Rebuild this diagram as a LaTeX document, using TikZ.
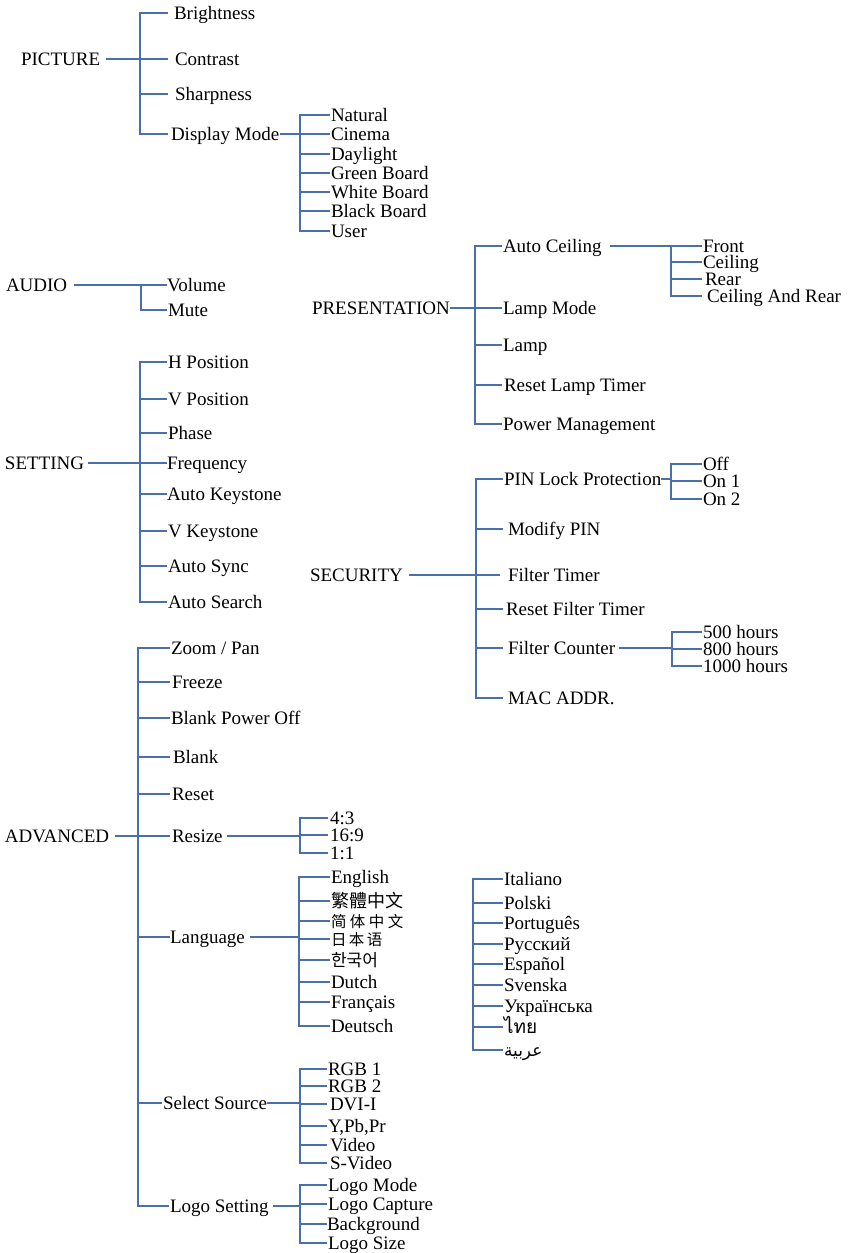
\documentclass[tikz,border=0pt]{standalone}
\usepackage{fontspec}
\setmainfont{Liberation Serif}
\newfontfamily\cjksc{Noto Sans CJK SC}
\newfontfamily\cjkkr{Noto Sans CJK KR}
\newfontfamily\thaifont[Script=Thai]{Loma}
\newfontfamily\arabicfont[Script=Arabic]{DejaVu Sans}
\TeXXeTstate=1
\definecolor{linkblue}{RGB}{74,112,172}
\tikzset{
  ln/.style={draw=linkblue, line width=1.6pt},
  lbl/.style={anchor=west, inner ysep=0pt, inner xsep=0.5pt, outer sep=0pt,
              text height=12.6pt, text depth=0pt, font=\fontsize{19}{19}\selectfont},
  pad/.style={inner xsep=#1pt},
}
\begin{document}
\begin{tikzpicture}[x=1pt,y=-1pt]
\useasboundingbox (0,0) rectangle (847,1253);

% ---------------- PICTURE ----------------
\node[lbl,pad=0] (picture) at (21,59) {PICTURE};
\coordinate (tP) at (140,0);
\node[lbl,pad=6] (brightness) at (168,13) {Brightness};
\node[lbl,pad=7] (contrast) at (168,59) {Contrast};
\node[lbl,pad=7] (sharpness) at (168,94) {Sharpness};
\node[lbl,pad=3] (display) at (168,134) {Display Mode};
\draw[ln] ([xshift=6pt]picture.east) -- (picture.east -| tP);
\draw[ln] (brightness.west) -| (tP |- display.west) -- (display.west);
\foreach \n in {contrast,sharpness} \draw[ln] (tP |- \n.west) -- (\n.west);

\coordinate (tD) at (300,0);
\node[lbl,pad=1] (natural) at (330,115) {Natural};
\node[lbl,pad=1] (cinema) at (330,134) {Cinema};
\node[lbl,pad=1] (daylight) at (330,154) {Daylight};
\node[lbl,pad=1] (greenb) at (330,173) {Green Board};
\node[lbl,pad=1] (whiteb) at (330,192) {White Board};
\node[lbl,pad=1] (blackb) at (330,211) {Black Board};
\node[lbl,pad=1] (user) at (330,231) {User};
\draw[ln] ([xshift=-2pt]display.east) -- (display.east -| tD);
\draw[ln] (natural.west) -| (tD |- user.west) -- (user.west);
\foreach \n in {cinema,daylight,greenb,whiteb,blackb} \draw[ln] (tD |- \n.west) -- (\n.west);

% ---------------- AUDIO ----------------
\node[lbl,pad=0] (audio) at (6,285) {AUDIO};
\coordinate (tA) at (141,0);
\node[lbl,pad=0] (volume) at (167,285) {Volume};
\node[lbl,pad=1] (mute) at (167,310) {Mute};
\draw[ln] ([xshift=7pt]audio.east) -- (audio.east -| tA);
\draw[ln] (volume.west) -| (tA |- mute.west) -- (mute.west);

% ---------------- PRESENTATION ----------------
\node[lbl,pad=0] (presentation) at (312,308) {PRESENTATION};
\coordinate (tPr) at (475,0);
\node[lbl,pad=1] (autoceiling) at (502,246) {Auto Ceiling};
\node[lbl,pad=1] (lampmode) at (502,308) {Lamp Mode};
\node[lbl,pad=1] (lamp) at (502,345) {Lamp};
\node[lbl,pad=2] (resetlamp) at (502,385) {Reset Lamp Timer};
\node[lbl,pad=1] (power) at (502,424) {Power Management};
\draw[ln] (presentation.east) -- (presentation.east -| tPr);
\draw[ln] (autoceiling.west) -| (tPr |- power.west) -- (power.west);
\foreach \n in {lampmode,lamp,resetlamp} \draw[ln] (tPr |- \n.west) -- (\n.west);

\coordinate (tAc) at (671,0);
\node[lbl,pad=1] (front) at (702,246) {Front};
\node[lbl,pad=1] (ceiling) at (702,262) {Ceiling};
\node[lbl,pad=3] (rear) at (702,279) {Rear};
\node[lbl,pad=5] (ceilrear) at (702,296) {Ceiling And Rear};
\draw[ln] ([xshift=7pt]autoceiling.east) -- (autoceiling.east -| tAc);
\draw[ln] (front.west) -| (tAc |- ceilrear.west) -- (ceilrear.west);
\foreach \n in {ceiling,rear} \draw[ln] (tAc |- \n.west) -- (\n.west);

% ---------------- SETTING ----------------
\node[lbl,pad=0] (setting) at (5,463) {SETTING};
\coordinate (tS) at (140,0);
\node[lbl,pad=1] (hpos) at (167,362) {H Position};
\node[lbl,pad=1] (vpos) at (167,399) {V Position};
\node[lbl,pad=1] (phase) at (167,433) {Phase};
\node[lbl,pad=0] (freq) at (167,463) {Frequency};
\node[lbl,pad=0] (autokey) at (167,494) {Auto Keystone};
\node[lbl,pad=1] (vkey) at (167,531) {V Keystone};
\node[lbl,pad=1] (autosync) at (167,566) {Auto Sync};
\node[lbl,pad=1] (autosearch) at (167,602) {Auto Search};
\draw[ln] ([xshift=4pt]setting.east) -- (setting.east -| tS);
\draw[ln] (hpos.west) -| (tS |- autosearch.west) -- (autosearch.west);
\foreach \n in {vpos,phase,freq,autokey,vkey,autosync} \draw[ln] (tS |- \n.west) -- (\n.west);

% ---------------- SECURITY ----------------
\node[lbl,pad=0] (security) at (310,575) {SECURITY};
\coordinate (tSe) at (476,0);
\node[lbl,pad=1] (pin) at (503,479) {PIN Lock Protection};
\node[lbl,pad=5] (modpin) at (503,529) {Modify PIN};
\node[lbl,pad=8] (filtertimer) at (500,575) {Filter Timer};
\node[lbl,pad=3] (resetfilter) at (503,609) {Reset Filter Timer};
\node[lbl,pad=5] (filtercounter) at (503,648) {Filter Counter};
\node[lbl,pad=5] (mac) at (503,698) {MAC ADDR.};
\draw[ln] ([xshift=6pt]security.east) -- (security.east -| tSe);
\draw[ln] (pin.west) -| (tSe |- mac.west) -- (mac.west);
\foreach \n in {modpin,filtertimer,resetfilter,filtercounter} \draw[ln] (tSe |- \n.west) -- (\n.west);

\coordinate (tPin) at (671,0);
\node[lbl,pad=1] (off) at (702,464) {Off};
\node[lbl,pad=1] (onone) at (702,481) {On 1};
\node[lbl,pad=1] (ontwo) at (702,499) {On 2};
\draw[ln] ([xshift=-1pt]pin.east) -- (pin.east -| tPin);
\draw[ln] (off.west) -| (tPin |- ontwo.west) -- (ontwo.west);
\draw[ln] (tPin |- onone.west) -- (onone.west);

\coordinate (tFc) at (672,0);
\node[lbl,pad=1] (hfive) at (702,632) {500 hours};
\node[lbl,pad=1] (height) at (702,649) {800 hours};
\node[lbl,pad=1] (hthousand) at (702,666) {1000 hours};
\draw[ln] ([xshift=-1pt]filtercounter.east) -- (filtercounter.east -| tFc);
\draw[ln] (hfive.west) -| (tFc |- hthousand.west) -- (hthousand.west);
\draw[ln] (tFc |- height.west) -- (height.west);

% ---------------- ADVANCED ----------------
\node[lbl,pad=0] (advanced) at (5,836) {ADVANCED};
\coordinate (tAd) at (138,0);
\node[lbl,pad=1] (zoompan) at (170,648) {Zoom / Pan};
\node[lbl,pad=2] (freeze) at (170,682) {Freeze};
\node[lbl,pad=1] (blankpower) at (170,718) {Blank Power Off};
\node[lbl,pad=3] (blank) at (170,757) {Blank};
\node[lbl,pad=2] (reset) at (170,794) {Reset};
\node[lbl,pad=2] (resize) at (170,836) {Resize};
\node[lbl,pad=0] (language) at (170,937) {Language};
\node[lbl,pad=1] (selectsource) at (162,1103) {Select Source};
\node[lbl,pad=1] (logosetting) at (169,1206) {Logo Setting};
\draw[ln] ([xshift=6pt]advanced.east) -- (advanced.east -| tAd);
\draw[ln] (zoompan.west) -| (tAd |- logosetting.west) -- (logosetting.west);
\foreach \n in {freeze,blankpower,blank,reset,resize,language,selectsource} \draw[ln] (tAd |- \n.west) -- (\n.west);

% Resize
\coordinate (tRs) at (300,0);
\node[lbl,pad=2] (rfourthree) at (328,818) {4:3};
\node[lbl,pad=2] (rsixteen) at (328,835) {16:9};
\node[lbl,pad=2] (roneone) at (328,853) {1:1};
\draw[ln] ([xshift=2pt]resize.east) -- (resize.east -| tRs);
\draw[ln] (rfourthree.west) -| (tRs |- roneone.west) -- (roneone.west);
\draw[ln] (tRs |- rsixteen.west) -- (rsixteen.west);

% Language
\coordinate (tL) at (299,0);
\node[lbl,pad=1] (english) at (330,877) {English};
\node[lbl,pad=1] (trad) at (330,901) {\cjksc\fontsize{18}{18}\selectfont 繁體中文};
\node[lbl,pad=1] (simp) at (330,921) {\cjksc\fontsize{15.5}{16}\selectfont 简\hspace{3.5pt}体\hspace{3.5pt}中\hspace{3.5pt}文};
\node[lbl,pad=1] (jp) at (330,939) {\cjksc\fontsize{15.5}{16}\selectfont 日\hspace{2.5pt}本\hspace{2.5pt}语};
\node[lbl,pad=1] (kr) at (330,960) {\cjkkr\fontsize{17}{17}\selectfont 한국어};
\node[lbl,pad=1] (dutch) at (330,982) {Dutch};
\node[lbl,pad=1] (francais) at (330,1002) {Français};
\node[lbl,pad=1] (deutsch) at (330,1026) {Deutsch};
\draw[ln] ([xshift=5pt]language.east) -- (language.east -| tL);
\draw[ln] (english.west) -| (tL |- deutsch.west) -- (deutsch.west);
\foreach \n in {trad,simp,jp,kr,dutch,francais} \draw[ln] (tL |- \n.west) -- (\n.west);

\coordinate (tLb) at (473,0);
\node[lbl,pad=1] (italiano) at (503,879) {Italiano};
\node[lbl,pad=1] (polski) at (503,903) {Polski};
\node[lbl,pad=1] (portugues) at (503,923) {Português};
\node[lbl,pad=1] (russian) at (503,944) {Русский};
\node[lbl,pad=1] (espanol) at (503,964) {Español};
\node[lbl,pad=1] (svenska) at (503,985) {Svenska};
\node[lbl,pad=1] (ukr) at (503,1006) {Українська};
\node[lbl,pad=1] (thai) at (503,1027) {\thaifont ไทย};
\node[lbl,pad=1] (arabic) at (503,1050) {\arabicfont\fontsize{17}{17}\selectfont\beginR عربية\endR};
\draw[ln] (italiano.west) -| (tLb |- arabic.west) -- (arabic.west);
\foreach \n in {polski,portugues,russian,espanol,svenska,ukr,thai} \draw[ln] (tLb |- \n.west) -- (\n.west);

% Select Source
\coordinate (tSs) at (300,0);
\node[lbl,pad=1] (rgbone) at (327,1069) {RGB 1};
\node[lbl,pad=1] (rgbtwo) at (327,1086) {RGB 2};
\node[lbl,pad=3] (dvi) at (327,1104) {DVI-I};
\node[lbl,pad=1] (ypbpr) at (327,1126) {Y,Pb,Pr};
\node[lbl,pad=3] (video) at (327,1145) {Video};
\node[lbl,pad=3] (svideo) at (327,1163) {S-Video};
\draw[ln] ([xshift=-1pt]selectsource.east) -- (selectsource.east -| tSs);
\draw[ln] (rgbone.west) -| (tSs |- svideo.west) -- (svideo.west);
\foreach \n in {rgbtwo,dvi,ypbpr,video} \draw[ln] (tSs |- \n.west) -- (\n.west);

% Logo Setting
\coordinate (tLo) at (300,0);
\node[lbl,pad=1] (logomode) at (327,1185) {Logo Mode};
\node[lbl,pad=1] (logocapture) at (327,1204) {Logo Capture};
\node[lbl,pad=0] (background) at (327,1224) {Background};
\node[lbl,pad=1] (logosize) at (327,1243) {Logo Size};
\draw[ln] ([xshift=3pt]logosetting.east) -- (logosetting.east -| tLo);
\draw[ln] (logomode.west) -| (tLo |- logosize.west) -- (logosize.west);
\foreach \n in {logocapture,background} \draw[ln] (tLo |- \n.west) -- (\n.west);
\end{tikzpicture}
\end{document}
